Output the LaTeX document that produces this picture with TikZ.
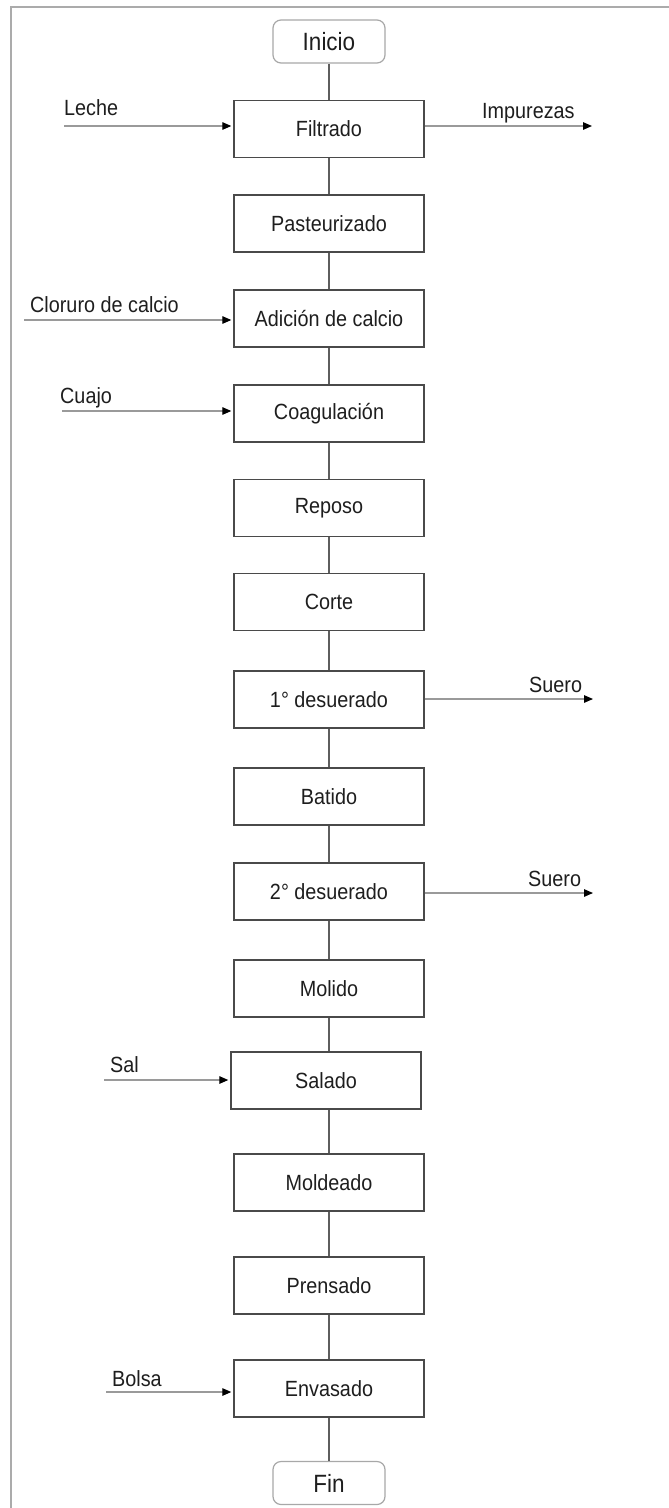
\documentclass[tikz,border=0pt]{standalone}
\usepackage{fontspec}
\setmainfont{Liberation Sans}[FakeStretch=0.9]
\usetikzlibrary{arrows.meta}
\definecolor{boxc}{HTML}{4A4A4A}
\definecolor{termc}{HTML}{A8A8A8}
\definecolor{linec}{HTML}{5E5E5E}
\definecolor{arrc}{HTML}{9A9A9A}
\definecolor{framec}{HTML}{ABABAB}
\definecolor{txt}{HTML}{1E1E1E}
\newcommand\lblfont{\fontsize{22}{26}\selectfont}
\newcommand\termfont{\fontsize{25}{29}\selectfont}
\begin{document}
\begin{tikzpicture}[x=1pt,y=-1pt,
  proc/.style={draw=boxc, line width=1.4pt, minimum width=190pt, minimum height=57pt, inner sep=0pt, font=\lblfont, text=txt},
  term/.style={draw=termc, line width=1.2pt, rounded corners=8pt, minimum width=112pt, minimum height=43pt, inner sep=0pt, font=\termfont, text=txt},
  flow/.style={draw=linec, line width=1.3pt},
  side/.style={draw=arrc, line width=1.3pt, shorten >=2pt, -{Triangle[length=9pt,width=7.5pt,color=black]}},
  sideout/.style={draw=arrc, line width=1.3pt, -{Triangle[length=9pt,width=7.5pt,color=black]}},
  lab/.style={font=\lblfont, text=txt, anchor=base west, inner sep=0pt}
]
\useasboundingbox (0,0) rectangle (669,1508);
\fill[white] (0,0) rectangle (669,1508);
% frame (top and left sides)
\draw[framec, line width=2.6pt] (11,1508) -- (11,7) -- (669,7);

% terminals
\node[term] (inicio) at (329,41.5) {Inicio};
\node[term] (fin) at (329,1483) {Fin};

% process boxes
\node[proc] (filtrado) at (329,129) {Filtrado};
\node[proc] (pasteurizado) at (329,223.5) {Pasteurizado};
\node[proc] (adicion) at (329,318.5) {Adición de calcio};
\node[proc] (coagulacion) at (329,413.5) {Coagulación};
\node[proc] (reposo) at (329,508) {Reposo};
\node[proc] (corte) at (329,602) {Corte};
\node[proc] (desuerado1) at (329,699.5) {1° desuerado};
\node[proc] (batido) at (329,796.5) {Batido};
\node[proc] (desuerado2) at (329,891.5) {2° desuerado};
\node[proc] (molido) at (329,988.5) {Molido};
\node[proc] (salado) at (326,1080.5) {Salado};
\node[proc] (moldeado) at (329,1182.5) {Moldeado};
\node[proc] (prensado) at (329,1285.5) {Prensado};
\node[proc] (envasado) at (329,1388.5) {Envasado};

% main flow
\draw[flow] (inicio.south) -- (filtrado.north);
\draw[flow] (filtrado.south) -- (pasteurizado.north);
\draw[flow] (pasteurizado.south) -- (adicion.north);
\draw[flow] (adicion.south) -- (coagulacion.north);
\draw[flow] (coagulacion.south) -- (reposo.north);
\draw[flow] (reposo.south) -- (corte.north);
\draw[flow] (corte.south) -- (desuerado1.north);
\draw[flow] (desuerado1.south) -- (batido.north);
\draw[flow] (batido.south) -- (desuerado2.north);
\draw[flow] (desuerado2.south) -- (molido.north);
\draw[flow] (molido.south) -- (molido.south |- salado.north);
\draw[flow] (moldeado.north |- salado.south) -- (moldeado.north);
\draw[flow] (moldeado.south) -- (prensado.north);
\draw[flow] (prensado.south) -- (envasado.north);
\draw[flow] (envasado.south) -- (fin.north);

% inputs
\coordinate (lecheS) at (64,126);
\draw[side] (lecheS) -- (lecheS -| filtrado.west);
\node[lab] (leche) at (64,115) {Leche};

\coordinate (clorS) at (24,320);
\draw[side] (clorS) -- (clorS -| adicion.west);
\node[lab] (cloruro) at (30,312) {Cloruro de calcio};

\coordinate (cuajoS) at (62,411);
\draw[side] (cuajoS) -- (cuajoS -| coagulacion.west);
\node[lab] (cuajo) at (60,403) {Cuajo};

\coordinate (salS) at (104,1080);
\draw[side] (salS) -- (salS -| salado.west);
\node[lab] (sal) at (110,1072) {Sal};

\coordinate (bolsaS) at (106,1392);
\draw[side] (bolsaS) -- (bolsaS -| envasado.west);
\node[lab] (bolsa) at (112,1386) {Bolsa};

% outputs
\coordinate (impE) at (592,126);
\draw[sideout] (filtrado.east |- impE) -- (impE);
\node[lab] (impurezas) at (482,118) {Impurezas};

\coordinate (suero1E) at (593,699);
\draw[sideout] (desuerado1.east |- suero1E) -- (suero1E);
\node[lab] (suero1) at (529,692) {Suero};

\coordinate (suero2E) at (593,893);
\draw[sideout] (desuerado2.east |- suero2E) -- (suero2E);
\node[lab] (suero2) at (528,886) {Suero};
\end{tikzpicture}
\end{document}
